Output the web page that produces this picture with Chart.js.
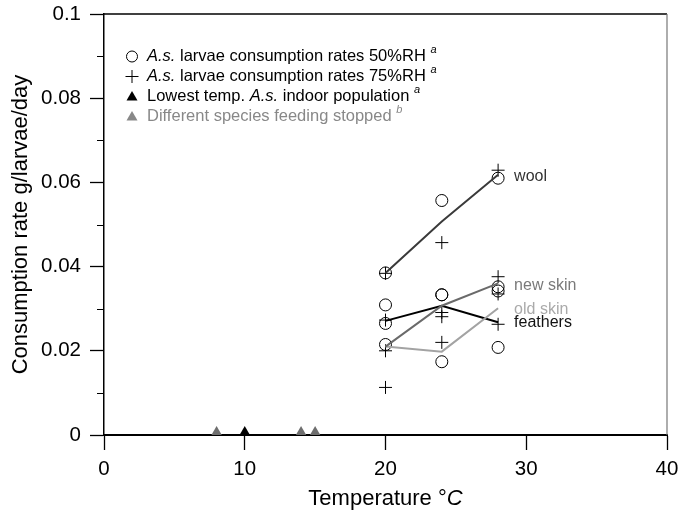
<!DOCTYPE html>
<html><head><meta charset="utf-8">
<script src="https://cdn.jsdelivr.net/npm/chart.js@4/dist/chart.umd.min.js"></script>
<style>html,body{margin:0;padding:0;background:#fff}</style>
</head><body>
<canvas id="c" width="680" height="511"></canvas>
<script>
// ---- data ----
const temps = [20, 24, 28];
const rh50Temps = [20, 20, 20, 20, 24, 24, 24, 24, 28, 28, 28, 28];
const rh50Rates = [0.0385, 0.0309, 0.0265, 0.0215, 0.0557, 0.0333, 0.0333, 0.0174, 0.0610, 0.0352, 0.0342, 0.0208];
const rh75Temps = [20, 20, 20, 20, 24, 24, 24, 24, 28, 28, 28, 28];
const rh75Rates = [0.0384, 0.0273, 0.0200, 0.0113, 0.0457, 0.0291, 0.0281, 0.0220, 0.0629, 0.0376, 0.0335, 0.0263];
const woolMean = [0.0385, 0.0507, 0.0618];
const newSkinMean = [0.0210, 0.0307, 0.0360];
const oldSkinMean = [0.0210, 0.0198, 0.0301];
const feathersMean = [0.0271, 0.0307, 0.0268];
const indoorTemps = [10];
const indoorRates = [0.0007];
const otherSpeciesTemps = [8, 14, 15];
const otherSpeciesRates = [0.0007, 0.0007, 0.0007];
const lineNames = ['wool', 'new skin', 'old skin', 'feathers'];
const yTicks = [0, 0.02, 0.04, 0.06, 0.08, 0.1];
const yMinorTicks = [0.01, 0.03, 0.05, 0.07, 0.09];
const xTicks = [0, 10, 20, 30, 40];
const legendLabels = [
  [['A.s.', 'i'], [' larvae consumption rates 50%RH ', 'n'], ['a', 's']],
  [['A.s.', 'i'], [' larvae consumption rates 75%RH ', 'n'], ['a', 's']],
  [['Lowest temp. ', 'n'], ['A.s.', 'i'], [' indoor population ', 'n'], ['a', 's']],
  [['Different species feeding stopped ', 'n'], ['b', 's']]
];

const FONT = '"Liberation Sans", Arial, Helvetica, sans-serif';
const lineColors = ['#3a3a3a', '#6a6a6a', '#a3a3a3', '#000000'];
const labelColors = ['#333333', '#7a7a7a', '#aaaaaa', '#111111'];
const means = [woolMean, newSkinMean, oldSkinMean, feathersMean];
const pts = (xs, ys) => xs.map((x, i) => ({x, y: ys[i]}));

const datasets = [];
means.forEach((m, k) => datasets.push({
  label: lineNames[k], data: pts(temps, m), showLine: true,
  borderColor: lineColors[k], borderWidth: 2, pointRadius: 0, pointHoverRadius: 0, fill: false
}));
datasets.push({label: '50%RH', data: pts(rh50Temps, rh50Rates), pointStyle: 'circle', pointRadius: 6,
  borderColor: '#000', backgroundColor: 'rgba(0,0,0,0)', borderWidth: 1});
datasets.push({label: '75%RH', data: pts(rh75Temps, rh75Rates), pointStyle: 'cross', pointRadius: 6.5,
  borderColor: '#000', borderWidth: 1});
datasets.push({label: 'indoor', data: pts(indoorTemps, indoorRates), pointStyle: 'triangle', pointRadius: 6,
  borderWidth: 0, backgroundColor: '#000', borderColor: '#000', clip: false});
datasets.push({label: 'other', data: pts(otherSpeciesTemps, otherSpeciesRates), pointStyle: 'triangle', pointRadius: 6,
  borderWidth: 0, backgroundColor: '#6e6e6e', borderColor: '#6e6e6e', clip: false});

const decor = {
  id: 'decor',
  afterDraw(chart) {
    const {ctx, chartArea: a, scales: {x, y}} = chart;
    ctx.save();
    // top and right frame
    ctx.strokeStyle = '#000'; ctx.lineWidth = 1.5;
    ctx.beginPath(); ctx.moveTo(a.left, a.top); ctx.lineTo(a.right, a.top); ctx.stroke();
    ctx.strokeStyle = '#777'; ctx.lineWidth = 1.2;
    ctx.beginPath(); ctx.moveTo(a.right, a.top); ctx.lineTo(a.right, a.bottom); ctx.stroke();
    // minor y ticks
    ctx.strokeStyle = '#000'; ctx.lineWidth = 1;
    yMinorTicks.forEach(v => {
      const py = Math.round(y.getPixelForValue(v)) + 0.5;
      ctx.beginPath(); ctx.moveTo(a.left - 7, py); ctx.lineTo(a.left, py); ctx.stroke();
    });
    // line labels
    ctx.font = '16px ' + FONT; ctx.textBaseline = 'middle'; ctx.textAlign = 'left';
    const labelOffsets = [-0.0005, -0.0004, -0.0002, -0.0002];
    means.forEach((m, k) => {
      ctx.fillStyle = labelColors[k];
      ctx.fillText(lineNames[k], x.getPixelForValue(temps[2]) + 16, y.getPixelForValue(m[2] + labelOffsets[k]));
    });
    // legend
    const lx = 132, tx = 147, rows = [56.5, 76.5, 96.5, 116.5];
    rows.forEach((ry, r) => {
      const col = r === 3 ? '#888' : '#000';
      ctx.fillStyle = col; ctx.strokeStyle = col; ctx.lineWidth = 1;
      ctx.beginPath();
      if (r === 0) { ctx.arc(lx, ry, 5.5, 0, Math.PI * 2); ctx.stroke(); }
      else if (r === 1) { ctx.moveTo(lx - 6.5, ry); ctx.lineTo(lx + 6.5, ry); ctx.moveTo(lx, ry - 6.5); ctx.lineTo(lx, ry + 6.5); ctx.stroke(); }
      else { ctx.moveTo(lx, ry - 5.5); ctx.lineTo(lx + 5.5, ry + 4); ctx.lineTo(lx - 5.5, ry + 4); ctx.closePath(); ctx.fill(); }
      let cx = tx;
      ctx.textBaseline = 'middle';
      legendLabels[r].forEach(([txt, st]) => {
        if (st === 's') { ctx.font = 'italic 11px ' + FONT; ctx.fillText(txt, cx, ry - 7); }
        else { ctx.font = (st === 'i' ? 'italic ' : '') + '16.5px ' + FONT; ctx.fillText(txt, cx, ry); }
        cx += ctx.measureText(txt).width;
      });
    });
    // x title with italic C
    const t1 = 'Temperature °', t2 = 'C';
    ctx.fillStyle = '#000'; ctx.textBaseline = 'alphabetic';
    ctx.font = '22px ' + FONT; const w1 = ctx.measureText(t1).width;
    ctx.font = 'italic 22px ' + FONT; const w2 = ctx.measureText(t2).width;
    let sx = (a.left + a.right) / 2 - (w1 + w2) / 2;
    ctx.font = '22px ' + FONT; ctx.fillText(t1, sx, 505);
    ctx.font = 'italic 22px ' + FONT; ctx.fillText(t2, sx + w1, 505);
    ctx.restore();
  }
};

new Chart(document.getElementById('c'), {
  type: 'scatter',
  data: {datasets},
  options: {
    responsive: false, animation: false, devicePixelRatio: 1,
    layout: {padding: {top: 14, right: 13, left: 0, bottom: 0}},
    plugins: {legend: {display: false}, tooltip: {enabled: false}},
    scales: {
      x: {
        type: 'linear', min: 0, max: 40,
        afterBuildTicks: s => { s.ticks = xTicks.map(v => ({value: v})); },
        afterFit: s => { s.height = 76; s.paddingLeft = 0; s.paddingRight = 0; },
        grid: {drawOnChartArea: false, drawTicks: true, tickLength: 15, tickColor: '#000', tickWidth: 1.3},
        border: {display: true, color: '#000', width: 2},
        ticks: {color: '#000', font: {family: FONT, size: 20.5}, padding: 7, maxRotation: 0},
        title: {display: false}
      },
      y: {
        type: 'linear', min: 0, max: 0.1,
        afterBuildTicks: s => { s.ticks = yTicks.map(v => ({value: v})); },
        afterFit: s => { s.width = 104; s.paddingTop = 0; s.paddingBottom = 0; },
        grid: {drawOnChartArea: false, drawTicks: true, tickLength: 14, tickColor: '#000', tickWidth: 1.3},
        border: {display: true, color: '#000', width: 1.5},
        ticks: {color: '#000', font: {family: FONT, size: 20.5}, padding: 9,
          callback: v => String(+v.toFixed(2))},
        title: {display: true, text: 'Consumption rate g/larvae/day', color: '#000',
          font: {family: FONT, size: 22, weight: 'normal'}, padding: {top: 8, bottom: 0}}
      }
    }
  },
  plugins: [decor]
});
</script>
</body></html>
